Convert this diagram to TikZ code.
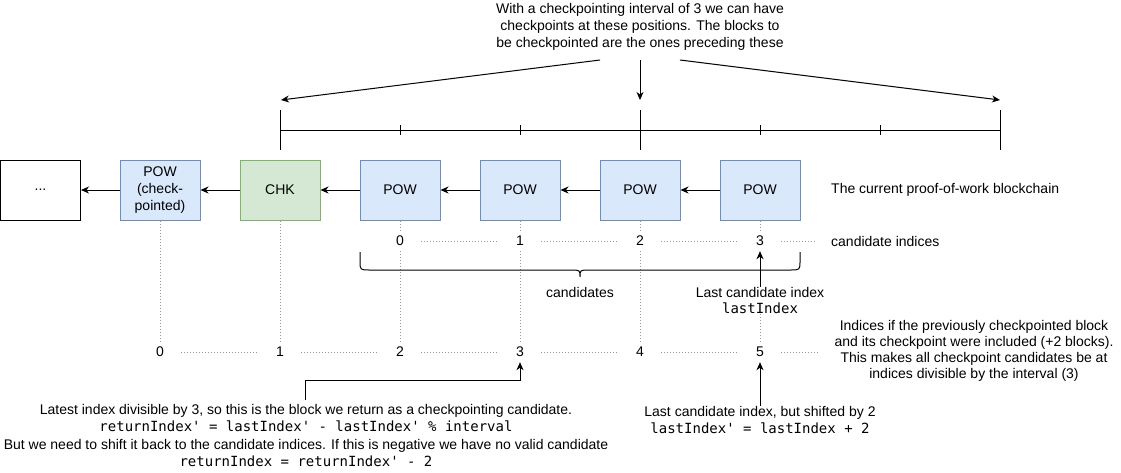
\documentclass[tikz,border=0pt]{standalone}
\usepackage{fontspec}
\setmainfont{Liberation Sans}
\setmonofont{DejaVu Sans Mono}
\usetikzlibrary{arrows.meta}
\definecolor{bfill}{HTML}{DAE8FC}
\definecolor{bline}{HTML}{6C8EBF}
\definecolor{gfill}{HTML}{D5E8D4}
\definecolor{gline}{HTML}{82B366}
\definecolor{dotc}{HTML}{999999}
\begin{document}
\begin{tikzpicture}[x=1pt,y=-1pt,
  font=\fontsize{14}{16.8}\selectfont,
  box/.style={draw, minimum width=80pt, minimum height=60pt, inner sep=0pt, align=center, line width=1pt},
  pow/.style={box, fill=bfill, draw=bline},
  chkbox/.style={box, fill=gfill, draw=gline},
  arr/.style={-{Stealth[length=8pt,width=7pt,inset=2.5pt]}, line width=1pt},
  dotl/.style={draw=dotc, dash pattern=on 1pt off 2pt, line width=1pt},
  idx/.style={minimum width=42pt, minimum height=20pt, inner sep=0pt},
  plain/.style={align=center, inner sep=0pt},
]
\useasboundingbox (0,0) rectangle (1121,472);

% blockchain
\node[box] (dots) at (40.5,190) {...};
\node[pow] (pc) at (160,190) {POW\\(check-\\pointed)};
\node[chkbox] (chk) at (280,190) {CHK};
\node[pow] (p1) at (400,190) {POW};
\node[pow] (p2) at (520,190) {POW};
\node[pow] (p3) at (640,190) {POW};
\node[pow] (p4) at (760,190) {POW};
\node[plain, anchor=west] (chain) at (831,190) {The current proof-of-work blockchain};

\draw[arr] (p4.west) -- (p3.east);
\draw[arr] (p3.west) -- (p2.east);
\draw[arr] (p2.west) -- (p1.east);
\draw[arr] (p1.west) -- (chk.east);
\draw[arr] (chk.west) -- (pc.east);
\draw[arr] (pc.west) -- (dots.east);

% top text and arrows
\node[plain] (top) at (640,27) {With a checkpointing interval of 3 we can have\\checkpoints at these positions. The blocks to\\be checkpointed are the ones preceding these};
\coordinate (ta) at (600,60);
\coordinate (tb) at (640,60);
\coordinate (tc) at (680,60);
\coordinate (ra) at (281,100);
\coordinate (rb) at (640,100);
\coordinate (rc) at (1000,100);
\draw[arr] (ta) -- (ra);
\draw[arr] (tb) -- (rb);
\draw[arr] (tc) -- (rc);

% ruler
\draw[line width=1pt] (280,130) -- (1000,130);
\foreach \x in {280,640,1000} \draw[line width=1pt] (\x,110) -- (\x,150);
\foreach \x in {400,520,760,880} \draw[line width=1pt] (\x,125) -- (\x,135);

% candidate indices
\node[idx] (c0) at (400,241) {0};
\node[idx] (c1) at (520,241) {1};
\node[idx] (c2) at (640,241) {2};
\node[idx] (c3) at (760,241) {3};
\node[plain, anchor=west] (ci) at (831,241) {candidate indices};
\coordinate (cie) at (816,241);

% shifted indices
\node[idx] (l0) at (160,352) {0};
\node[idx] (l1) at (280,352) {1};
\node[idx] (l2) at (400,352) {2};
\node[idx] (l3) at (520,352) {3};
\node[idx] (l4) at (640,352) {4};
\node[idx] (l5) at (760,352) {5};
\node[plain, font=\fontsize{14}{16}\selectfont] (rt) at (974,351) {Indices if the previously checkpointed block\\and its checkpoint were included (+2 blocks).\\This makes all checkpoint candidates be at\\indices divisible by the interval (3)};
\coordinate (rte) at (820,352);

% labels
\node[plain] (cand) at (580,292) {candidates};
\node[plain] (li) at (760,300.5) {Last candidate index\\\texttt{lastIndex}};
\node[plain] (sh) at (760,420) {Last candidate index, but shifted by 2\\\texttt{lastIndex' = lastIndex + 2}};
\node[plain, font=\fontsize{14}{17.6}\selectfont] (bt) at (306,435.5) {Latest index divisible by 3, so this is the block we return as a checkpointing candidate.\\\texttt{returnIndex' = lastIndex' - lastIndex' \% interval}\\But we need to shift it back to the candidate indices. If this is negative we have no valid candidate\\\texttt{returnIndex = returnIndex' - 2}};

% dotted guides
\draw[dotl] (pc.south) -- (l0.north);
\draw[dotl] (chk.south) -- (l1.north);
\draw[dotl] (p1.south) -- (c0.north);
\draw[dotl] (c0.south) -- (l2.north);
\draw[dotl] (p2.south) -- (c1.north);
\draw[dotl] (c1.south) -- (l3.north);
\draw[dotl] (p3.south) -- (c2.north);
\draw[dotl] (c2.south) -- (l4.north);
\draw[dotl] (p4.south) -- (c3.north);
\draw[dotl] (li.south) -- (l5.north);
\draw[dotl] (c0.east) -- (c1.west);
\draw[dotl] (c1.east) -- (c2.west);
\draw[dotl] (c2.east) -- (c3.west);
\draw[dotl] (c3.east) -- (cie);
\draw[dotl] (l0.east) -- (l1.west);
\draw[dotl] (l1.east) -- (l2.west);
\draw[dotl] (l2.east) -- (l3.west);
\draw[dotl] (l3.east) -- (l4.west);
\draw[dotl] (l4.east) -- (l5.west);
\draw[dotl] (l5.east) -- (rte);

% brace
\draw[line width=1pt] (360,252) -- (360,261) .. controls (360,270) .. (370,270) -- (571,270) .. controls (580,270) .. (580,277) .. controls (580,270) .. (589,270) -- (790,270) .. controls (800,270) .. (800,261) -- (800,252);

% arrows to indices
\draw[arr] (li.north) -- (c3.south);
\draw[arr] (sh.north) -- (l5.south);
\coordinate (e0) at (305,400);
\draw[arr] (e0) -- ++(0,-20) -| (l3.south);
\end{tikzpicture}
\end{document}
